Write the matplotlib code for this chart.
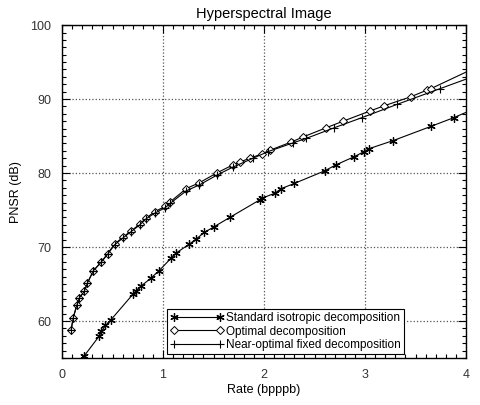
import matplotlib
matplotlib.use("Agg")
import matplotlib.pyplot as plt
from matplotlib.ticker import MultipleLocator

plt.rcParams['font.family'] = ['Liberation Sans', 'DejaVu Sans']

# Standard isotropic decomposition
std_rate = [0.22, 0.37, 0.39, 0.43, 0.48, 0.70, 0.73, 0.78, 0.88, 0.96, 1.08, 1.13,
            1.26, 1.33, 1.41, 1.50, 1.66, 1.96, 1.98, 2.11, 2.17, 2.30, 2.60, 2.71,
            2.89, 2.99, 3.04, 3.28, 3.65, 3.88, 4.10]
std_psnr = [55.3, 58.0, 58.6, 59.4, 60.1, 63.6, 64.0, 64.7, 65.8, 66.8, 68.5, 69.2,
            70.4, 71.1, 72.0, 72.7, 74.0, 76.4, 76.6, 77.3, 77.9, 78.6, 80.3, 81.1,
            82.2, 82.9, 83.3, 84.4, 86.3, 87.5, 88.8]

# Optimal decomposition
opt_rate = [0.09, 0.11, 0.145, 0.17, 0.22, 0.25, 0.31, 0.39, 0.45, 0.52, 0.60, 0.685,
            0.77, 0.83, 0.92, 1.02, 1.07, 1.23, 1.36, 1.53, 1.69, 1.76, 1.86, 1.98,
            2.06, 2.27, 2.39, 2.61, 2.78, 3.05, 3.19, 3.45, 3.61, 3.65, 4.10]
opt_psnr = [58.8, 60.4, 62.1, 63.1, 64.0, 65.1, 66.8, 68.0, 69.1, 70.4, 71.3, 72.2,
            73.1, 73.9, 74.8, 75.5, 76.1, 77.9, 78.7, 80.0, 81.1, 81.5, 82.0, 82.6,
            83.1, 84.2, 84.9, 86.1, 87.0, 88.4, 89.1, 90.3, 91.2, 91.4, 94.3]

# Near-optimal fixed decomposition
near_rate = [0.09, 0.11, 0.145, 0.17, 0.22, 0.25, 0.31, 0.39, 0.45, 0.52, 0.60, 0.685,
             0.77, 0.83, 0.92, 1.02, 1.07, 1.23, 1.36, 1.53, 1.69, 1.89, 2.04, 2.29,
             2.42, 2.69, 2.97, 3.32, 3.74, 4.10]
near_psnr = [58.8, 60.4, 62.1, 63.1, 64.0, 65.1, 66.8, 68.0, 69.0, 70.3, 71.2, 72.1,
             73.0, 73.8, 74.6, 75.3, 75.9, 77.6, 78.4, 79.7, 80.8, 82.0, 82.9, 84.1,
             84.7, 86.1, 87.5, 89.3, 91.4, 93.2]

fig = plt.figure(figsize=(4.81, 4.05), dpi=100)
ax = fig.add_axes([0.129, 0.116, 0.840, 0.822])

asterisk = (6, 2, 0)
ax.plot(std_rate, std_psnr, color='black', lw=0.8, marker=asterisk, ms=6, mew=0.9,
        label='Standard isotropic decomposition')
ax.plot(opt_rate, opt_psnr, color='black', lw=0.8, marker='D', ms=4.5, mew=0.7,
        mfc='white', label='Optimal decomposition')
ax.plot(near_rate, near_psnr, color='black', lw=0.8, marker='+', ms=6, mew=0.8,
        label='Near-optimal fixed decomposition')

ax.set_xlim(0, 4)
ax.set_ylim(55, 100)
ax.xaxis.set_major_locator(MultipleLocator(1))
ax.xaxis.set_minor_locator(MultipleLocator(0.1))
ax.yaxis.set_major_locator(MultipleLocator(10))
ax.yaxis.set_minor_locator(MultipleLocator(1))
ax.tick_params(which='both', direction='in', top=True, right=True, labelsize=9,
               colors='black', labelcolor='#333333')
ax.tick_params(which='major', length=6, width=0.8, pad=8)
ax.tick_params(which='minor', length=3, width=0.8)
ax.grid(True, which='major', linestyle=':', color='#555555', lw=0.9)
for s in ax.spines.values():
    s.set_linewidth(1.0)

ax.set_title('Hyperspectral Image', fontsize=10.5, pad=5)
ax.set_xlabel('Rate (bpppb)', fontsize=9, labelpad=2)
ax.set_ylabel('PNSR (dB)', fontsize=9, labelpad=6)

leg = ax.legend(loc='lower right', bbox_to_anchor=(0.855, 0.0), fontsize=8.5,
                numpoints=2, handlelength=4.5, handletextpad=0.2, borderpad=0.3,
                labelspacing=0.12, fancybox=False, framealpha=1, edgecolor='black',
                borderaxespad=0.3)
leg.get_frame().set_linewidth(0.8)

fig.savefig('out.png', dpi=100)
